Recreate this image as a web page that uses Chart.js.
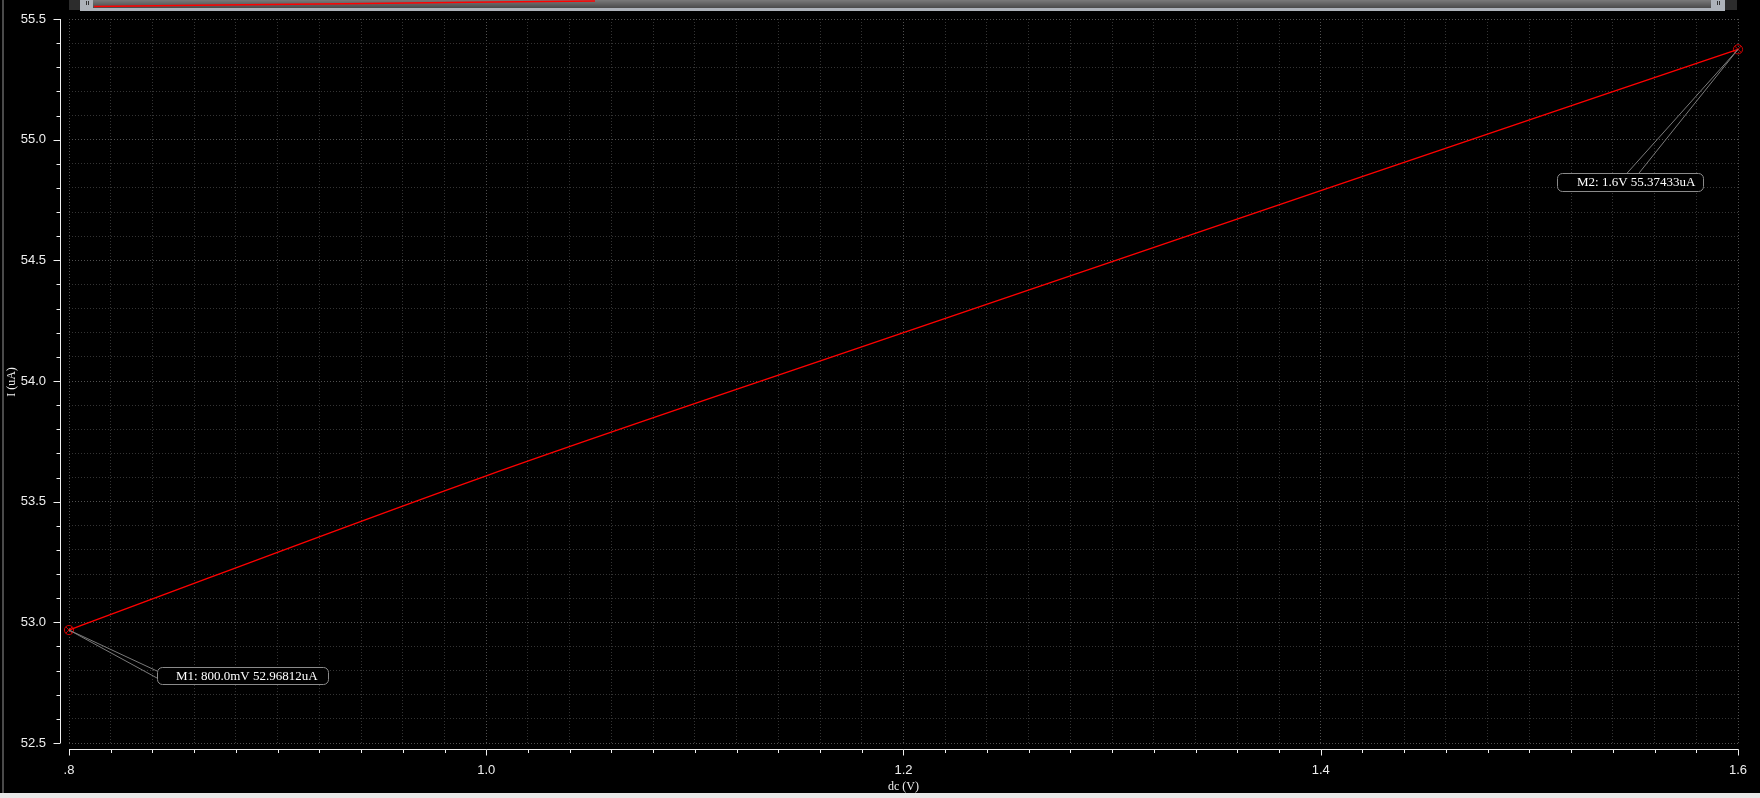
<!DOCTYPE html>
<html>
<head>
<meta charset="utf-8">
<script src="https://cdn.jsdelivr.net/npm/chart.js@4"></script>
<style>
  html, body { margin: 0; padding: 0; background: #000; overflow: hidden; }
</style>
</head>
<body>
<canvas id="plot" width="1760" height="798"></canvas>
<script>
// dc sweep, current
const dcVolts = [0.8, 1.0, 1.2, 1.4, 1.6];
const currentUA = [52.96812, 53.607, 54.200, 54.789, 55.37433];

// markers
const markerVolts = [0.8, 1.6];
const markerCurrent = [52.96812, 55.37433];
const markerText = ['M1: 800.0mV 52.96812uA', 'M2: 1.6V 55.37433uA'];

// tick labels
const xTickValues = [0.8, 1.0, 1.2, 1.4, 1.6];
const xTickText = ['.8', '1.0', '1.2', '1.4', '1.6'];
const yTickValues = [52.5, 53.0, 53.5, 54.0, 54.5, 55.0, 55.5];
const yTickText = ['52.5', '53.0', '53.5', '54.0', '54.5', '55.0', '55.5'];

const GRID_MINOR = '#343434';
const GRID_MAJOR = '#505050';
const TICK_FONT = { family: 'Liberation Sans', size: 13 };

function findTick(list, v) {
    return list.findIndex(t => Math.abs(t - v) < 1e-6);
}

// no extra room for overhanging labels, the plot box is fixed
function fixScale(s, size) {
    if (s.isHorizontal()) s.height = size; else s.width = size;
    s.paddingTop = 0;
    s.paddingBottom = 0;
    s.paddingLeft = 0;
    s.paddingRight = 0;
}

// marker callouts: leader line ends and box, relative to the marker pixel
const callouts = [
    { lines: [[88, 41], [88, 48]], box: [88, 37, 171, 17], textX: 107 },
    { lines: [[-112, 125], [-100, 125]], box: [-181, 124, 146, 18], textX: -161 }
];

const decor = {
    id: 'decor',
    afterDraw(chart) {
        const ctx = chart.ctx;
        const xs = chart.scales.x, ys = chart.scales.y;
        const area = chart.chartArea;
        ctx.save();

        // axis lines + ticks
        ctx.strokeStyle = '#f0f0f0';
        ctx.lineWidth = 1;
        const axX = Math.round(area.left) - 9 + 0.5;
        const axY = Math.round(area.bottom) + 6 + 0.5;
        ctx.beginPath();
        ctx.moveTo(axX, ys.getPixelForValue(55.5));
        ctx.lineTo(axX, ys.getPixelForValue(52.5));
        ctx.moveTo(area.left, axY);
        ctx.lineTo(area.right + 0.5, axY);
        ys.ticks.forEach(t => {
            const p = Math.round(ys.getPixelForValue(t.value)) + 0.5;
            const len = findTick(yTickValues, t.value) >= 0 ? 7 : 4;
            ctx.moveTo(axX - len, p);
            ctx.lineTo(axX, p);
        });
        xs.ticks.forEach(t => {
            const p = Math.round(xs.getPixelForValue(t.value)) + 0.5;
            const len = findTick(xTickValues, t.value) >= 0 ? 6 : 3.5;
            ctx.moveTo(p, axY);
            ctx.lineTo(p, axY + len);
        });
        ctx.stroke();

        // axis titles
        ctx.fillStyle = '#eeeeee';
        ctx.font = '12px "Liberation Serif"';
        ctx.textAlign = 'center';
        ctx.textBaseline = 'middle';
        ctx.fillText('dc (V)', (area.left + area.right) / 2, 787);
        ctx.save();
        ctx.translate(11.5, 382);
        ctx.rotate(-Math.PI / 2);
        ctx.fillText('I (uA)', 0, 0);
        ctx.restore();

        // marker callouts
        ctx.font = '13px "Liberation Serif"';
        ctx.textAlign = 'left';
        markerVolts.forEach((v, i) => {
            const px = xs.getPixelForValue(v);
            const py = ys.getPixelForValue(markerCurrent[i]);
            const c = callouts[i];
            ctx.strokeStyle = '#7a7a7a';
            ctx.lineWidth = 1;
            ctx.beginPath();
            c.lines.forEach(l => {
                ctx.moveTo(px, py);
                ctx.lineTo(px + l[0], py + l[1]);
            });
            ctx.stroke();
            const bx = Math.round(px + c.box[0]) + 0.5, by = Math.round(py + c.box[1]) + 0.5;
            ctx.fillStyle = '#000';
            ctx.strokeStyle = '#8a8a8a';
            ctx.beginPath();
            ctx.roundRect(bx, by, c.box[2], c.box[3], 5);
            ctx.fill();
            ctx.stroke();
            ctx.fillStyle = '#ffffff';
            ctx.fillText(markerText[i], px + c.textX, by + c.box[3] / 2 + 0.5);
        });

        // overview scrollbar on top
        ctx.fillStyle = '#2c2c2c';
        ctx.fillRect(69, 0, 1668, 10);
        const g = ctx.createLinearGradient(0, 0, 0, 9);
        g.addColorStop(0, '#7a7a7a');
        g.addColorStop(1, '#444444');
        ctx.fillStyle = g;
        ctx.fillRect(80, 0, 1645, 9);
        ctx.fillStyle = '#aeb3ba';
        ctx.fillRect(80, 8, 1645, 3);
        ctx.fillRect(80, 0, 13, 10);
        ctx.fillRect(1711, 0, 14, 10);
        ctx.fillStyle = '#333';
        ctx.fillRect(86, 1, 1, 4);
        ctx.fillRect(88, 1, 1, 4);
        ctx.fillRect(1717, 1, 1, 4);
        ctx.fillRect(1719, 1, 1, 4);
        // overview trace
        ctx.strokeStyle = '#ff0000';
        ctx.lineWidth = 1.5;
        ctx.beginPath();
        dcVolts.forEach((v, i) => {
            const ox = 94 + (v - 0.8) / 0.8 * 501;
            const oy = 6.5 - (currentUA[i] - 52.96812) / (55.37433 - 52.96812) * 5.5;
            if (i === 0) ctx.moveTo(ox, oy); else ctx.lineTo(ox, oy);
        });
        ctx.stroke();

        // window frame
        ctx.fillStyle = '#4a4a4a';
        ctx.fillRect(2, 0, 2, 793);
        ctx.fillStyle = '#e8e8e8';
        ctx.fillRect(0, 793, 1760, 5);
        ctx.restore();
    }
};

new Chart(document.getElementById('plot'), {
    type: 'scatter',
    data: {
        datasets: [{
            data: dcVolts.map((v, i) => ({ x: v, y: currentUA[i] })),
            showLine: true,
            borderColor: '#ff0000',
            borderWidth: 1.3,
            pointRadius: 0,
            cubicInterpolationMode: 'monotone',
            clip: false
        }, {
            data: markerVolts.map((v, i) => ({ x: v, y: markerCurrent[i] })),
            pointStyle: 'circle',
            pointRadius: 4.6,
            borderColor: '#d00000',
            backgroundColor: 'rgba(0,0,0,0)',
            borderWidth: 1,
            clip: false
        }, {
            data: markerVolts.map((v, i) => ({ x: v, y: markerCurrent[i] })),
            pointStyle: 'crossRot',
            pointRadius: 4.6,
            borderColor: '#d00000',
            borderWidth: 1,
            clip: false
        }]
    },
    options: {
        responsive: false,
        animation: false,
        layout: { padding: { top: 19, right: 22, left: 0, bottom: 0 } },
        plugins: { legend: { display: false }, tooltip: { enabled: false } },
        scales: {
            x: {
                type: 'linear',
                min: 0.8,
                max: 1.6,
                afterFit: s => fixScale(s, 55),
                grid: {
                    drawTicks: false,
                    lineWidth: 1,
                    color: c => (c.tick && findTick(xTickValues, c.tick.value) >= 0) ? GRID_MAJOR : GRID_MINOR
                },
                border: { display: false, dash: [1, 2] },
                ticks: {
                    stepSize: 0.02,
                    autoSkip: false,
                    maxRotation: 0,
                    padding: 20,
                    color: '#eeeeee',
                    font: TICK_FONT,
                    callback: v => { const i = findTick(xTickValues, v); return i < 0 ? '' : xTickText[i]; }
                }
            },
            y: {
                type: 'linear',
                min: 52.5,
                max: 55.5,
                afterFit: s => fixScale(s, 69),
                grid: {
                    drawTicks: false,
                    lineWidth: 1,
                    color: c => (c.tick && findTick(yTickValues, c.tick.value) >= 0) ? GRID_MAJOR : GRID_MINOR
                },
                border: { display: false, dash: [1, 2] },
                ticks: {
                    stepSize: 0.1,
                    autoSkip: false,
                    padding: 23,
                    color: '#eeeeee',
                    font: TICK_FONT,
                    callback: v => { const i = findTick(yTickValues, v); return i < 0 ? '' : yTickText[i]; }
                }
            }
        }
    },
    plugins: [decor]
});
</script>
</body>
</html>
